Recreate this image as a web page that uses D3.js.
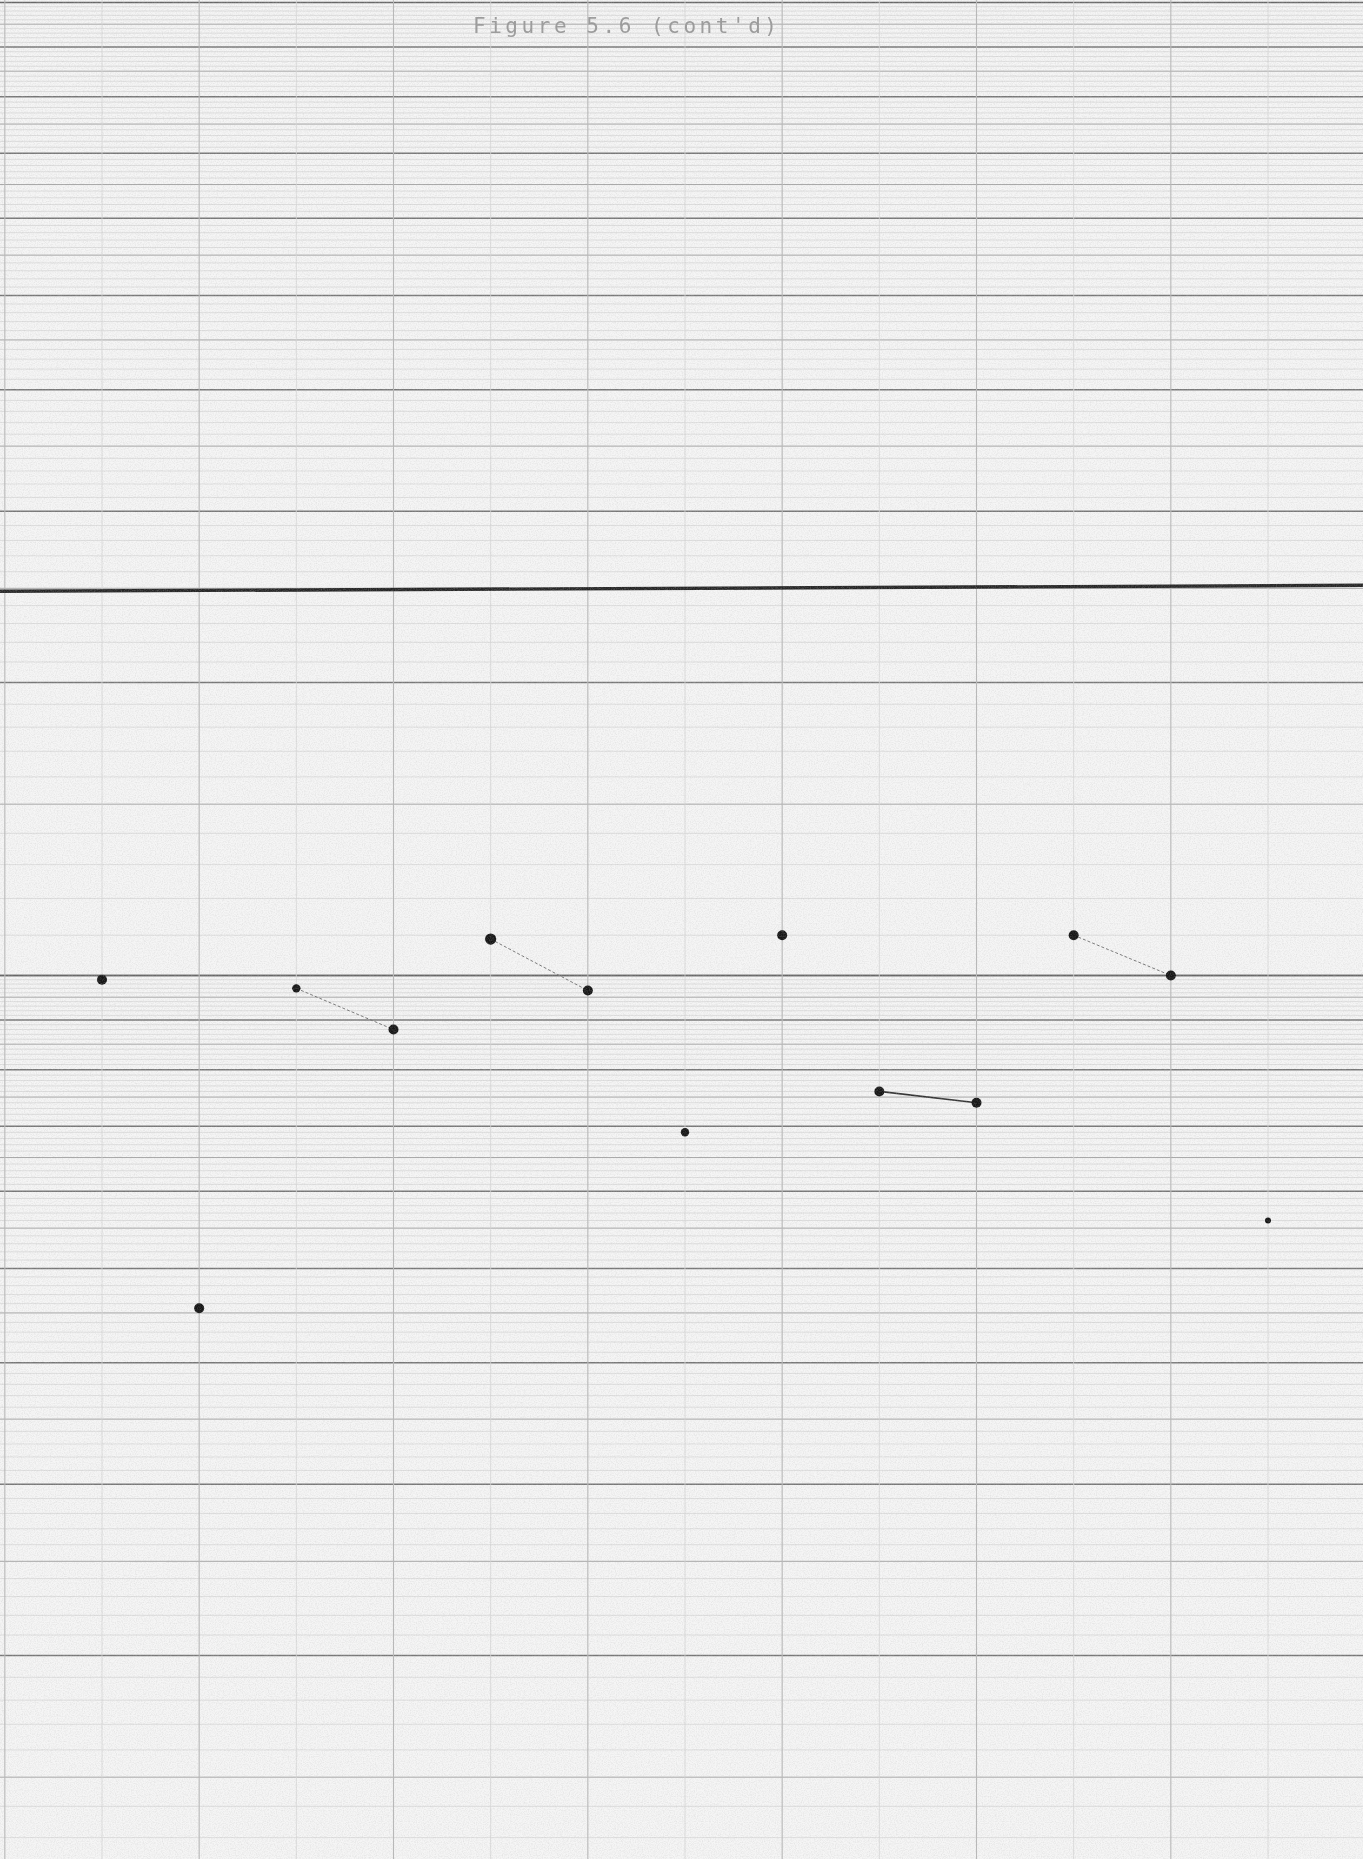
<!DOCTYPE html>
<html>
<head>
<meta charset="utf-8">
<script src="https://cdn.jsdelivr.net/npm/d3@7"></script>
<style>
  html, body { margin: 0; padding: 0; background: #f5f5f5; }
  svg { display: block; }
</style>
</head>
<body>
<script>
// Semi-log record sheet: 13 samples plotted against a two-cycle log scale.
const title = "Figure 5.6 (cont'd)";
const samples = [1, 2, 3, 4, 5, 6, 7, 8, 9, 10, 11, 12, 13];
const values = [9.9, 4.55, 9.7, 8.8, 10.9, 9.65, 6.9, 11.0, 7.6, 7.4, 11.0, 10.0, 5.6];
// consecutive samples joined by a line segment
const joined = [[3, 4], [5, 6], [9, 10], [11, 12]];
// ruled limit line
const limitValue = 25;
// decades of the log paper
const decades = [1, 10];
// vertical rulings of the sheet (sample positions, extended past both ends)
const columns = d3.range(0, 15);

const W = 1363, H = 1859;

const svg = d3.select("body").append("svg")
  .attr("width", W).attr("height", H)
  .attr("viewBox", `0 0 ${W} ${H}`);

const defs = svg.append("defs");
const soft = defs.append("filter").attr("id", "soft")
  .attr("x", "-2%").attr("y", "-2%").attr("width", "104%").attr("height", "104%");
soft.append("feGaussianBlur").attr("stdDeviation", 0.6);

const grain = defs.append("filter").attr("id", "grain")
  .attr("x", 0).attr("y", 0).attr("width", "100%").attr("height", "100%");
grain.append("feTurbulence").attr("type", "fractalNoise")
  .attr("baseFrequency", 0.85).attr("numOctaves", 2).attr("seed", 7);
grain.append("feColorMatrix").attr("type", "matrix")
  .attr("values", "0 0 0 0 0.5  0 0 0 0 0.5  0 0 0 0 0.5  0 0 0 -1.6 1.0");

// paper
svg.append("rect").attr("width", W).attr("height", H).attr("fill", "#f5f5f5");

const x = d3.scaleLinear().domain([1, 13]).range([102, 1268]);
const y = d3.scaleLog().domain([1, 100]).range([1948.5, 2.5]);

const chart = svg.append("g").attr("filter", "url(#soft)");

// horizontal rulings: every tenth of a decade, heavier on halves and whole units
const rows = [];
decades.forEach(dec => {
  d3.range(10, 101).forEach(k => {
    const m = k / 10;
    const v = m * dec;
    if (v < 1.2) return;
    let kind = "fine";
    if (k % 10 === 0) kind = (m === 1 || m === 10) ? "decade" : "unit";
    else if (k % 5 === 0) kind = "half";
    rows.push({ v, kind });
  });
});
const rowStyle = {
  fine:   { c: "#d4d4d4", w: 0.7 },
  half:   { c: "#a6a6a6", w: 1.0 },
  unit:   { c: "#777",    w: 1.5 },
  decade: { c: "#666",    w: 1.7 }
};
chart.append("g").selectAll("line").data(rows).join("line")
  .attr("x1", 0).attr("x2", W)
  .attr("y1", d => y(d.v)).attr("y2", d => y(d.v))
  .attr("stroke", d => rowStyle[d.kind].c)
  .attr("stroke-width", d => rowStyle[d.kind].w);

// vertical rulings, every other one heavier
chart.append("g").selectAll("line").data(columns).join("line")
  .attr("x1", d => x(d)).attr("x2", d => x(d))
  .attr("y1", 0).attr("y2", H)
  .attr("stroke", d => d % 2 === 0 ? "#b8b8b8" : "#d6d6d6")
  .attr("stroke-width", d => d % 2 === 0 ? 1.1 : 0.8);

// ruled limit line
chart.append("line")
  .attr("x1", 0).attr("x2", W)
  .attr("y1", y(limitValue) + 3).attr("y2", y(limitValue) - 3)
  .attr("stroke", "#262626").attr("stroke-width", 3.4);

// joining segments
const byId = new Map(samples.map((s, i) => [s, values[i]]));
chart.append("g").selectAll("line").data(joined).join("line")
  .attr("x1", d => x(d[0])).attr("y1", d => y(byId.get(d[0])))
  .attr("x2", d => x(d[1])).attr("y2", d => y(byId.get(d[1])))
  .attr("stroke", d => d[0] === 9 ? "#333" : "#777")
  .attr("stroke-width", d => d[0] === 9 ? 1.7 : 1)
  .attr("stroke-dasharray", d => d[0] === 9 ? null : "3 2");

// plotted points
const small = new Set([13]);
chart.append("g").selectAll("circle").data(samples).join("circle")
  .attr("cx", d => x(d))
  .attr("cy", (d, i) => y(values[i]))
  .attr("r", d => small.has(d) ? 3 : (d === 3 || d === 7 ? 4.2 : (d === 5 ? 5.6 : 5)))
  .attr("fill", "#141414");

// heading
chart.append("text")
  .attr("x", 473).attr("y", 33)
  .attr("textLength", 304).attr("lengthAdjust", "spacing")
  .attr("font-family", "DejaVu Sans Mono, Liberation Mono, monospace")
  .attr("font-size", 21)
  .attr("fill", "#9a9a9a")
  .text(title);

// scan grain
svg.append("rect").attr("width", W).attr("height", H)
  .attr("filter", "url(#grain)").attr("opacity", 0.35);
</script>
</body>
</html>
